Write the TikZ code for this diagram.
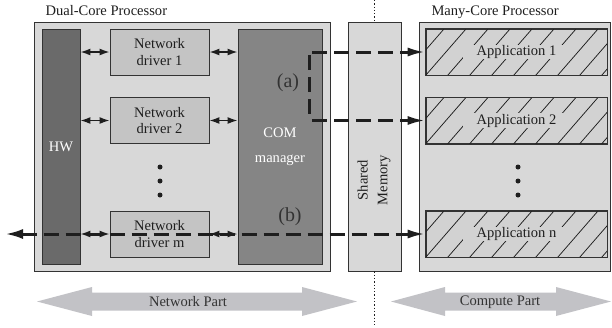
\documentclass[tikz,border=0pt]{standalone}
\usepackage{fontspec}
\setmainfont{Liberation Serif}
\usetikzlibrary{arrows.meta}

\definecolor{panelgray}{HTML}{D8D8D8}
\definecolor{hwgray}{HTML}{6A6A6A}
\definecolor{comgray}{HTML}{858585}
\definecolor{drvgray}{HTML}{C4C4C4}
\definecolor{appgray}{HTML}{D2D2D2}
\definecolor{bandgray}{HTML}{C2C2C6}
\definecolor{edgegray}{HTML}{333333}
\definecolor{inkgray}{HTML}{1E1E1E}

\begin{document}
\begin{tikzpicture}[x=1bp,y=-1bp,
  font=\fontsize{14.6}{17}\selectfont,
  box/.style={draw=edgegray, line width=0.8bp, rectangle, inner sep=0pt, align=center},
  panel/.style={box, fill=panelgray},
  hwbox/.style={box, fill=hwgray, text=white},
  combox/.style={box, fill=comgray, text=white},
  drv/.style={box, fill=drvgray, text=inkgray, minimum width=99bp, minimum height=46bp},
  app/.style={box, fill=appgray, minimum width=181bp, minimum height=46bp},
  applabel/.style={fill=appgray, inner xsep=14bp, inner ysep=0.5bp, text=inkgray},
  link/.style={{Latex[length=10bp,width=7bp]}-{Latex[length=10bp,width=7bp]}, line width=1.5bp, draw=inkgray},
  flow/.style={line width=3bp, dash pattern=on 15bp off 7bp, draw=inkgray},
  flowtip/.style={-{Latex[length=18bp,width=9bp]}},
  hatchline/.style={line width=0.75bp, draw=inkgray},
  band/.style={fill=bandgray},
  sepline/.style={dotted, line width=1.3bp, draw=inkgray},
  dotmark/.style={circle, fill=inkgray, inner sep=0pt, minimum size=5bp},
  bigtag/.style={font=\fontsize{20}{24}\selectfont, text=black!80}
]
\useasboundingbox (0,0) rectangle (612,327);

% processor panels
\node[panel, minimum width=296bp, minimum height=249bp] (dual) at (182,146.5) {};
\node[panel, minimum width=53bp, minimum height=249bp] (shm) at (374.5,146.5) {};
\node[panel, minimum width=191bp, minimum height=249bp] (many) at (514.5,146.5) {};
\node[anchor=base west, text=inkgray] (dualtitle) at (42,15) {Dual-Core Processor};
\node[anchor=base west, text=inkgray] (manytitle) at (428,15) {Many-Core Processor};
\node[rotate=90, align=center, font=\fontsize{14.6}{20}\selectfont, text=inkgray] (shmlabel) at (374,180) {Shared\\Memory};

% network side
\node[hwbox, minimum width=38bp, minimum height=235bp] (hw) at (61,146.5) {HW};
\node[combox, minimum width=84bp, minimum height=235bp, font=\fontsize{14.6}{25}\selectfont] (com) at (280,146.5) {COM\\manager};
\node[drv] (nd1) at (159.5,52) {Network\\driver 1};
\node[drv] (nd2) at (159.5,120.5) {Network\\driver 2};
\node[drv] (ndm) at (159.5,234) {Network\\driver m};
\node[dotmark] (ndot1) at (160,167) {};
\node[dotmark] (ndot2) at (160,181) {};
\node[dotmark] (ndot3) at (160,195) {};

\foreach \d in {nd1,nd2,ndm}{
  \draw[link] (hw.east |- \d.west) -- (\d.west);
  \draw[link] (\d.east) -- (com.west |- \d.east);
}

% applications
\node[app] (app1) at (516.5,52) {};
\node[app] (app2) at (516.5,120.5) {};
\node[app] (appn) at (516.5,234) {};
\foreach \a in {app1,app2,appn}{
  \begin{scope}
    \clip (\a.south west) rectangle (\a.north east);
    \foreach \i in {-2,...,9}
      \draw[hatchline] ([xshift=\i*22bp]\a.south west) -- ++(40,-46);
  \end{scope}
}
\node[applabel] (app1label) at (app1.center) {Application 1};
\node[applabel] (app2label) at (app2.center) {Application 2};
\node[applabel] (appnlabel) at (appn.center) {Application n};
\foreach \a in {app1,app2,appn}
  \draw[box, fill=none] (\a.south west) rectangle (\a.north east);
\node[dotmark] (adot1) at (518,167) {};
\node[dotmark] (adot2) at (518,181) {};
\node[dotmark] (adot3) at (518,195) {};

% separator between the two parts
\coordinate (septop) at (374.5,0);
\coordinate (sepbot) at (374.5,327);
\draw[sepline] (septop) -- (shm.north);
\draw[sepline] (shm.south) -- (sepbot);

% data paths
\coordinate (afrom1) at (312,52);
\coordinate (aup) at (309,55);
\coordinate (adown) at (309,118);
\coordinate (afrom2) at (312,120.5);
\coordinate (bleft) at (5,234);
\draw[flow, flowtip] (afrom1) -- (app1.west);
\draw[flow] (aup) -- (adown);
\draw[flow, flowtip] (afrom2) -- (app2.west);
\draw[flow, {Latex[length=18bp,width=10bp]}-{Latex[length=18bp,width=9bp]}] (bleft) -- (appn.west);
\node[bigtag] (taga) at (288,83) {(a)};
\node[bigtag] (tagb) at (290,217) {(b)};

% part arrows
\fill[band] (37,301.5) -- (92,287) -- (92,292.5) -- (302,292.5) -- (302,287) -- (357,301.5)
  -- (302,316) -- (302,310.5) -- (92,310.5) -- (92,316) -- cycle;
\fill[band] (391,301.5) -- (445,287) -- (445,292.5) -- (556,292.5) -- (556,287) -- (611,301.5)
  -- (556,316) -- (556,310.5) -- (445,310.5) -- (445,316) -- cycle;
\node[text=black!80] (netpart) at (188,302) {Network Part};
\node[text=black!80] (comppart) at (500,302) {Compute Part};
\end{tikzpicture}
\end{document}
